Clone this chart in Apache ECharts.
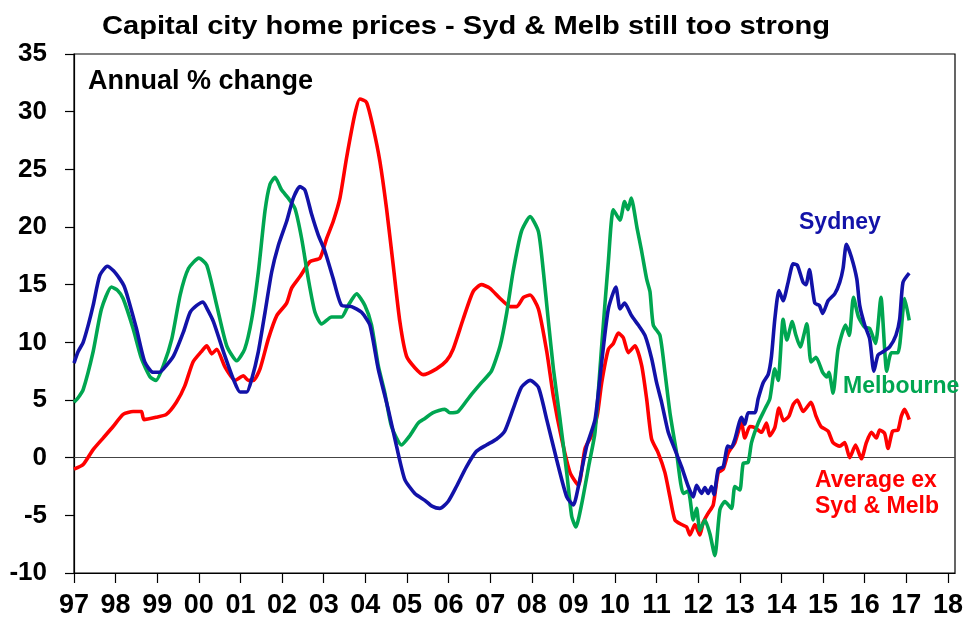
<!DOCTYPE html>
<html>
<head>
<meta charset="utf-8">
<script src="https://cdn.jsdelivr.net/npm/echarts@6/dist/echarts.min.js"></script>
<style>
  html, body { margin: 0; padding: 0; background: #fff; }
  #chart { width: 976px; height: 634px; }
</style>
</head>
<body>
<div id="chart"></div>
<script>
// annual % change, [decimal year, value]
var sydney = [
  [1997.0, 8.2], [1997.1, 9.2], [1997.22, 10.0], [1997.35, 11.6], [1997.46, 13.2], [1997.62, 15.8],
  [1997.8, 16.6], [1997.95, 16.2], [1998.1, 15.5], [1998.2, 14.9], [1998.3, 13.8], [1998.5, 11.2],
  [1998.7, 8.3], [1998.9, 7.4], [1999.05, 7.4], [1999.15, 7.7], [1999.39, 8.8], [1999.63, 10.9],
  [1999.79, 12.6], [1999.95, 13.2], [2000.1, 13.5], [2000.2, 12.9], [2000.35, 11.8], [2000.59, 9.2],
  [2000.83, 6.8], [2000.99, 5.7], [2001.15, 5.7], [2001.27, 6.8], [2001.43, 9.2], [2001.59, 12.6],
  [2001.75, 16.1], [2001.91, 18.4], [2002.11, 20.5], [2002.27, 22.5], [2002.43, 23.5], [2002.55, 23.2],
  [2002.71, 21.1], [2002.87, 19.3], [2003.03, 17.9], [2003.23, 15.5], [2003.43, 13.2], [2003.67, 13.1],
  [2003.91, 12.6], [2004.11, 11.5], [2004.31, 7.7], [2004.55, 4.2], [2004.75, 1.0], [2004.95, -1.9],
  [2005.19, -3.1], [2005.43, -3.7], [2005.6, -4.2], [2005.79, -4.4], [2005.99, -3.8], [2006.19, -2.5],
  [2006.43, -0.8], [2006.67, 0.55], [2006.91, 1.1], [2007.15, 1.6], [2007.35, 2.3], [2007.55, 4.2],
  [2007.75, 6.1], [2007.96, 6.7], [2008.16, 6.1], [2008.36, 3.3], [2008.6, -0.2], [2008.84, -3.4],
  [2009.0, -4.1], [2009.12, -2.5], [2009.32, 1.0], [2009.52, 3.3], [2009.68, 8.3], [2009.84, 12.9],
  [2010.02, 14.8], [2010.12, 12.9], [2010.23, 13.4], [2010.4, 12.3], [2010.56, 11.5], [2010.72, 10.6],
  [2010.88, 8.6], [2011.0, 6.5], [2011.12, 4.8], [2011.28, 2.2], [2011.44, 0.7], [2011.6, -0.8],
  [2011.76, -2.5], [2011.88, -3.4], [2011.96, -2.4], [2012.08, -3.1], [2012.16, -2.6], [2012.24, -3.1],
  [2012.32, -2.5], [2012.38, -3.2], [2012.48, -1.0], [2012.6, -0.8], [2012.71, 1.0], [2012.8, 0.9],
  [2012.88, 1.6], [2013.04, 3.5], [2013.12, 2.9], [2013.2, 3.9], [2013.36, 3.9], [2013.44, 5.1],
  [2013.56, 6.5], [2013.68, 7.2], [2013.76, 8.8], [2013.84, 12.0], [2013.94, 14.5], [2014.04, 13.6],
  [2014.16, 15.2], [2014.28, 16.8], [2014.38, 16.7], [2014.52, 15.2], [2014.59, 15.0], [2014.67, 16.3],
  [2014.8, 13.4], [2014.91, 13.2], [2014.99, 12.5], [2015.12, 13.6], [2015.28, 14.2], [2015.4, 15.2],
  [2015.48, 16.4], [2015.56, 18.5], [2015.68, 17.4], [2015.81, 15.5], [2015.88, 13.2], [2016.0, 11.5],
  [2016.12, 10.3], [2016.22, 7.5], [2016.32, 8.9], [2016.45, 9.2], [2016.6, 9.6], [2016.75, 10.6],
  [2016.84, 12.0], [2016.92, 15.2], [2017.07, 16.0]
];

var melbourne = [
  [1997.0, 4.8], [1997.1, 5.2], [1997.22, 5.9], [1997.46, 9.2], [1997.66, 12.9], [1997.9, 14.8],
  [1998.05, 14.5], [1998.18, 13.8], [1998.42, 11.2], [1998.62, 8.6], [1998.83, 7.0], [1998.97, 6.7],
  [1999.15, 8.0], [1999.35, 10.3], [1999.55, 14.1], [1999.75, 16.4], [2000.0, 17.3], [2000.19, 16.7],
  [2000.43, 13.2], [2000.67, 9.7], [2000.91, 8.4], [2001.1, 9.4], [2001.27, 12.0], [2001.43, 16.1],
  [2001.59, 21.4], [2001.71, 23.7], [2001.83, 24.3], [2001.99, 23.2], [2002.15, 22.5], [2002.31, 21.6],
  [2002.47, 19.0], [2002.63, 15.5], [2002.79, 12.6], [2002.95, 11.6], [2003.19, 12.2], [2003.43, 12.2],
  [2003.59, 13.2], [2003.79, 14.2], [2003.99, 13.2], [2004.15, 11.5], [2004.31, 8.0], [2004.47, 5.6],
  [2004.63, 2.7], [2004.87, 1.1], [2005.07, 1.9], [2005.27, 3.0], [2005.43, 3.4], [2005.63, 3.9],
  [2005.91, 4.2], [2006.03, 3.9], [2006.23, 4.0], [2006.51, 5.3], [2006.79, 6.5], [2007.03, 7.5],
  [2007.24, 9.7], [2007.4, 12.6], [2007.55, 16.1], [2007.75, 19.6], [2007.96, 20.9], [2008.16, 19.6],
  [2008.28, 16.1], [2008.4, 11.8], [2008.52, 7.7], [2008.68, 3.3], [2008.84, -1.3], [2008.96, -5.1],
  [2009.06, -6.0], [2009.2, -4.0], [2009.38, -0.5], [2009.52, 2.2], [2009.68, 9.7], [2009.84, 17.0],
  [2009.96, 21.5], [2010.12, 20.6], [2010.23, 22.2], [2010.31, 21.5], [2010.39, 22.5], [2010.53, 19.9],
  [2010.64, 17.9], [2010.76, 15.5], [2010.84, 14.4], [2010.92, 11.5], [2011.08, 10.6], [2011.2, 7.4],
  [2011.32, 3.9], [2011.48, 0.4], [2011.64, -3.1], [2011.76, -2.9], [2011.88, -5.4], [2011.96, -4.4],
  [2012.04, -6.3], [2012.16, -5.4], [2012.28, -6.6], [2012.4, -8.5], [2012.52, -4.5], [2012.64, -3.8],
  [2012.8, -4.4], [2012.88, -2.5], [2013.0, -2.8], [2013.08, -0.5], [2013.2, -0.4], [2013.28, 1.3],
  [2013.44, 3.0], [2013.6, 4.2], [2013.72, 5.1], [2013.84, 7.7], [2013.92, 6.7], [2014.04, 12.0],
  [2014.13, 10.2], [2014.26, 11.8], [2014.34, 10.7], [2014.45, 9.6], [2014.61, 11.6], [2014.71, 8.3],
  [2014.83, 8.7], [2014.99, 7.4], [2015.09, 7.0], [2015.14, 7.4], [2015.24, 5.6], [2015.36, 9.4],
  [2015.54, 11.5], [2015.63, 10.6], [2015.73, 13.9], [2015.85, 12.2], [2016.0, 11.3], [2016.12, 11.2],
  [2016.26, 9.9], [2016.39, 13.9], [2016.53, 7.5], [2016.64, 9.1], [2016.8, 9.1], [2016.96, 13.8],
  [2017.07, 11.9]
];

var averageExSydMelb = [
  [1997.0, -1.0], [1997.22, -0.6], [1997.46, 0.7], [1997.7, 1.7], [1997.94, 2.7], [1998.18, 3.75],
  [1998.42, 4.0], [1998.62, 4.0], [1998.68, 3.3], [1998.97, 3.5], [1999.22, 3.75], [1999.46, 4.8],
  [1999.66, 6.2], [1999.86, 8.3], [2000.06, 9.2], [2000.19, 9.7], [2000.31, 9.0], [2000.43, 9.4],
  [2000.63, 7.85], [2000.87, 6.7], [2001.07, 7.1], [2001.19, 6.7], [2001.31, 6.7], [2001.47, 7.7],
  [2001.67, 10.3], [2001.87, 12.3], [2002.11, 13.4], [2002.23, 14.7], [2002.43, 15.7], [2002.67, 17.0],
  [2002.91, 17.3], [2003.07, 19.0], [2003.23, 20.5], [2003.39, 22.5], [2003.55, 26.0], [2003.75, 29.8],
  [2003.87, 31.1], [2004.03, 30.8], [2004.19, 28.6], [2004.35, 25.7], [2004.51, 21.6], [2004.67, 16.7],
  [2004.83, 11.8], [2004.99, 8.8], [2005.19, 7.8], [2005.39, 7.2], [2005.71, 7.7], [2005.95, 8.4],
  [2006.11, 9.4], [2006.35, 12.0], [2006.59, 14.4], [2006.79, 15.0], [2006.99, 14.7], [2007.24, 13.8],
  [2007.48, 13.1], [2007.64, 13.1], [2007.8, 13.9], [2007.96, 14.1], [2008.16, 12.9], [2008.36, 9.2],
  [2008.52, 5.3], [2008.72, 1.6], [2008.92, -1.3], [2009.12, -2.4], [2009.28, 0.8], [2009.45, 2.0],
  [2009.58, 3.8], [2009.68, 6.5], [2009.84, 9.4], [2009.96, 9.9], [2010.08, 10.8], [2010.2, 10.4],
  [2010.32, 9.1], [2010.48, 9.7], [2010.64, 8.0], [2010.76, 5.1], [2010.88, 1.6], [2011.04, 0.4],
  [2011.2, -1.3], [2011.32, -3.4], [2011.44, -5.4], [2011.6, -5.8], [2011.72, -6.0], [2011.8, -6.7],
  [2011.92, -5.8], [2012.04, -6.7], [2012.12, -5.6], [2012.24, -4.8], [2012.36, -4.1], [2012.48, -1.3],
  [2012.6, -1.0], [2012.72, 0.4], [2012.88, 1.3], [2013.04, 3.0], [2013.12, 1.7], [2013.24, 2.7],
  [2013.36, 2.6], [2013.52, 2.2], [2013.64, 3.0], [2013.72, 1.9], [2013.84, 2.6], [2013.94, 4.3],
  [2014.05, 3.2], [2014.18, 3.6], [2014.28, 4.6], [2014.38, 5.0], [2014.52, 4.0], [2014.71, 4.8],
  [2014.83, 3.6], [2014.95, 2.7], [2015.12, 2.3], [2015.24, 1.3], [2015.4, 1.0], [2015.52, 1.3],
  [2015.64, 0.0], [2015.78, 1.1], [2015.92, -0.1], [2016.04, 1.3], [2016.16, 2.2], [2016.28, 1.7],
  [2016.36, 2.4], [2016.48, 2.1], [2016.56, 0.8], [2016.67, 2.3], [2016.8, 2.4], [2016.88, 3.6],
  [2016.96, 4.2], [2017.07, 3.3]
];

var yearTicks = [1997, 1998, 1999, 2000, 2001, 2002, 2003, 2004, 2005, 2006, 2007,
                 2008, 2009, 2010, 2011, 2012, 2013, 2014, 2015, 2016, 2017, 2018];
var yearLabels = ['97', '98', '99', '00', '01', '02', '03', '04', '05', '06', '07',
                  '08', '09', '10', '11', '12', '13', '14', '15', '16', '17', '18'];

var BLUE = '#1212a8';
var GREEN = '#00a651';
var RED = '#ff0000';
var FONT = "'Liberation Sans', Arial, sans-serif";

var myChart = echarts.init(document.getElementById('chart'), null, {renderer: 'canvas'});

function lineSeries(name, data, color) {
  return {
    name: name,
    type: 'line',
    data: data,
    showSymbol: false,
    smooth: 0.2,
    lineStyle: {color: color, width: 3.6},
    itemStyle: {color: color},
    z: 3
  };
}

var series = [
  lineSeries('Average ex Syd & Melb', averageExSydMelb, RED),
  lineSeries('Melbourne', melbourne, GREEN),
  lineSeries('Sydney', sydney, BLUE)
];
// zero line
series[0].markLine = {
  silent: true,
  symbol: ['none', 'none'],
  label: {show: false},
  lineStyle: {color: '#444', width: 1.2, type: 'solid'},
  data: [{yAxis: 0}],
  z: 1
};

myChart.setOption({
  animation: false,
  backgroundColor: '#fff',
  grid: {
    left: 74, right: 21, top: 54, bottom: 61,
    show: true, borderColor: '#000', borderWidth: 1.2, backgroundColor: 'transparent'
  },
  graphic: [
    {type: 'text', x: 102, y: 27, scaleX: 1.12, style: {text: 'Capital city home prices - Syd & Melb still too strong',
      font: 'bold 26px ' + FONT, fill: '#000', textVerticalAlign: 'middle'}},
    {type: 'text', x: 88, y: 82, style: {text: 'Annual % change',
      font: 'bold 27px ' + FONT, fill: '#000', textVerticalAlign: 'middle'}},
    {type: 'text', x: 799, y: 223, style: {text: 'Sydney',
      font: 'bold 23px ' + FONT, fill: BLUE, textVerticalAlign: 'middle'}},
    {type: 'text', x: 843, y: 387, style: {text: 'Melbourne',
      font: 'bold 23px ' + FONT, fill: GREEN, textVerticalAlign: 'middle'}},
    {type: 'text', x: 815, y: 481, style: {text: 'Average ex',
      font: 'bold 23px ' + FONT, fill: RED, textVerticalAlign: 'middle'}},
    {type: 'text', x: 815, y: 507, style: {text: 'Syd & Melb',
      font: 'bold 23px ' + FONT, fill: RED, textVerticalAlign: 'middle'}}
  ],
  xAxis: {
    type: 'value',
    min: 1997,
    max: 2018.17,
    splitLine: {show: false},
    axisLine: {show: true, onZero: false, lineStyle: {color: '#000', width: 1.2}},
    axisTick: {show: true, inside: false, length: 10, customValues: yearTicks,
      lineStyle: {color: '#000', width: 1.2}},
    axisLabel: {
      customValues: yearTicks,
      margin: 19,
      color: '#000',
      fontFamily: FONT,
      fontWeight: 'bold',
      fontSize: 27,
      formatter: function (v) { return yearLabels[yearTicks.indexOf(Math.round(v))] || ''; }
    }
  },
  yAxis: {
    type: 'value',
    min: -10,
    max: 35,
    interval: 5,
    splitLine: {show: false},
    axisLine: {show: true, lineStyle: {color: '#000', width: 1.2}},
    axisTick: {show: true, inside: false, length: 9, lineStyle: {color: '#000', width: 1.2}},
    axisLabel: {
      margin: 27,
      color: '#000',
      fontFamily: FONT,
      fontWeight: 'bold',
      fontSize: 26
    }
  },
  series: series
});
</script>
</body>
</html>
